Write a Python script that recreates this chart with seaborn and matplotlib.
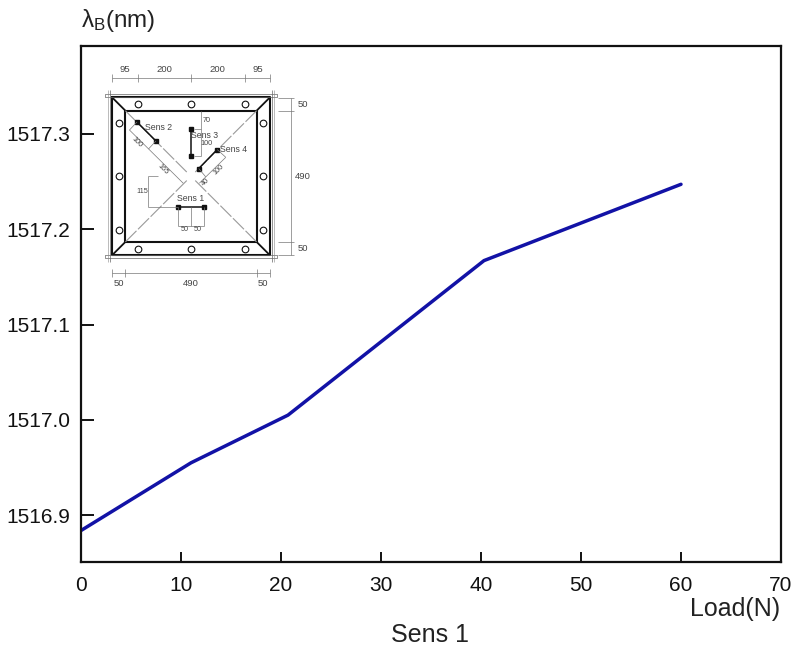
import matplotlib
matplotlib.use("Agg")
import matplotlib.pyplot as plt
import seaborn as sns
import pandas as pd

# ---- chart data ----
load_n = [0, 11, 20.7, 40.3, 60]
wavelength_nm = [1516.884, 1516.955, 1517.005, 1517.167, 1517.247]
x_ticks = [0, 10, 20, 30, 40, 50, 60, 70]
y_ticks = [1516.9, 1517.0, 1517.1, 1517.2, 1517.3]

# ---- inset schematic, in mm about the plate centre ----
outer = 295
inner = 245
bolt_near = 200
bolt_far = 270
sens1 = ([-50, 50], [-115, -115])
sens2 = ([-202, -131], [203, 132])
sens3 = ([0, 0], [176, 76])
sens4 = ([29, 98], [29, 100])
top_dim_x = [-297, -200, 0, 200, 297]
top_dim_labels = [(-248, "95"), (-100, "200"), (100, "200"), (248, "95")]
bottom_dim_x = [-295, -245, 245, 295]
bottom_dim_labels = [(-270, "50"), (0, "490"), (270, "50")]
right_dim_y = [294, 245, -245, -294]
right_dim_labels = [(270, "50"), (0, "490"), (-270, "50")]

sns.set_theme(style="white")
plt.rcParams["font.family"] = ["Liberation Sans", "DejaVu Sans"]
plt.rcParams["mathtext.fontset"] = "custom"
plt.rcParams["mathtext.rm"] = "Liberation Sans"
plt.rcParams["mathtext.it"] = "Liberation Sans"
plt.rcParams["mathtext.bf"] = "Liberation Sans"

W, H = 801, 654
fig = plt.figure(figsize=(W / 100, H / 100), dpi=100, facecolor="white")
ax = fig.add_axes([81 / W, 1 - 562 / H, 700 / W, 516 / H])

df = pd.DataFrame({"load": load_n, "wl": wavelength_nm})
sns.lineplot(data=df, x="load", y="wl", ax=ax, color="#1212a6", linewidth=2.5, sort=False)

ax.set_xlim(0, 70)
ax.set_ylim(1516.851, 1517.392)
ax.set_xticks(x_ticks)
ax.set_yticks(y_ticks)
ax.set_yticklabels([f"{v:.1f}" for v in y_ticks])
ax.tick_params(axis="x", direction="in", length=7.5, width=1.4, labelsize=15, pad=10,
               colors="#111111", bottom=True)
ax.tick_params(axis="y", direction="in", length=9, width=1.4, labelsize=15, pad=7.5,
               colors="#111111", left=True)
for s in ax.spines.values():
    s.set_visible(True)
    s.set_linewidth(1.6)
    s.set_color("#111111")

ax.set_xlabel("")
ax.set_ylabel("")
fig.text(780 / W, 1 - 609 / H, "Load(N)", ha="right", va="center", fontsize=18, color="#222222")
fig.text(430 / W, 1 - 635 / H, "Sens 1", ha="center", va="center", fontsize=18, color="#222222")
fig.text(81 / W, 1 - 21 / H, r"$\lambda_{\mathrm{B}}$(nm)", ha="left", va="center", fontsize=17.5,
         color="#222222")

# ---- inset schematic ----
S = 0.2675  # px per mm
bx0, bx1, by0, by1 = 95, 310, 55, 300
cx, cy = 191, 176.3
ins = fig.add_axes([bx0 / W, 1 - by1 / H, (bx1 - bx0) / W, (by1 - by0) / H])
ins.set_xlim((bx0 - cx) / S, (bx1 - cx) / S)
ins.set_ylim((cy - by1) / S, (cy - by0) / S)
ins.axis("off")
ins.patch.set_alpha(0)

K = "#111111"
G = "#777777"

def ln(x, y, lw=0.5, c=G, **kw):
    ins.plot(x, y, color=c, lw=lw, solid_capstyle="butt", **kw)

def lab(x, y, t, fs=6.3, rot=0):
    ins.text(x, y, t, fontsize=fs, ha="center", va="center", color="#444444", rotation=rot)

# frame
ins.plot([-outer, outer, outer, -outer, -outer], [outer, outer, -outer, -outer, outer], color=K, lw=1.5)
ins.plot([-inner, inner, inner, -inner, -inner], [inner, inner, -inner, -inner, inner], color=K, lw=1.5)
for sx in (-1, 1):
    for sy in (-1, 1):
        ln([sx * outer, sx * inner], [sy * outer, sy * inner], lw=1.3, c=K)
        ln([sx * inner, sx * 12], [sy * inner, sy * 12], lw=0.8, c="#999999", ls=(0, (14, 2)))
# end plates
for sy in (-1, 1):
    ln([-320, 320, 320, -320, -320], [sy * 296, sy * 296, sy * 307, sy * 307, sy * 296], lw=0.5, c="#666666")
for sx in (-1, 1):
    ln([sx * 302, sx * 302], [-322, 322], lw=0.5, c="#666666")
    ln([sx * 310, sx * 310], [-322, 322], lw=0.4, c="#888888")

# bolts
bx = [-bolt_near, 0, bolt_near]
for v in bx:
    for sgn in (-1, 1):
        ins.plot([v], [sgn * bolt_far], "o", ms=4.8, mfc="white", mec=K, mew=0.8)
        ins.plot([sgn * bolt_far], [v], "o", ms=4.8, mfc="white", mec=K, mew=0.8)

# sensors
for xs, ys in (sens1, sens2, sens3, sens4):
    ins.plot(xs, ys, color=K, lw=1.1, marker="s", ms=2.8, mfc=K, mec=K)
lab(0, -83, "Sens 1")
lab(-120, 182, "Sens 2")
lab(50, 151, "Sens 3")
lab(160, 100, "Sens 4")

# outer dimensions
ln([-297, 297], [369, 369])
for v in top_dim_x:
    ln([v, v], [354, 384])
for v, t in top_dim_labels:
    lab(v, 400, t, fs=6.8)
ln([-297, 297], [-363, -363])
for v in bottom_dim_x:
    ln([v, v], [-348, -378])
for v, t in bottom_dim_labels:
    lab(v, -400, t, fs=6.8)
ln([374, 374], [-294, 294])
for v in right_dim_y:
    ln([325, 385], [v, v])
for v, t in right_dim_labels:
    lab(418, v, t, fs=6.8)

# inner dimensions
ln([-160, -160], [0, -115])
ln([-160, -123], [0, 0])
ln([-160, -50], [-115, -115])
lab(-181, -57, "115", fs=5.2)
ln([-50, 50], [-184, -184])
for v in (-50, 0, 50):
    ln([v, v], [-115, -184])
lab(-25, -198, "50", fs=5.2)
lab(25, -198, "50", fs=5.2)
ln([39, 39], [245, 76])
ln([10, 39], [176, 176])
ln([10, 39], [76, 76])
lab(57, 208, "70", fs=5.2)
lab(58, 121, "100", fs=5.2)
ln([-230, -29], [173, -26])
ln([-202, -230], [203, 173])
ln([-131, -159], [132, 102])
lab(-203, 127, "100", fs=5.2, rot=-45)
lab(-106, 27, "165", fs=5.2, rot=-45)
ln([31, 130], [-26, 71])
ln([98, 130], [100, 71])
ln([29, 55], [29, -2])
lab(56, -22, "40", fs=5.2, rot=45)
lab(105, 24, "100", fs=5.2, rot=45)

fig.savefig("out.png", dpi=100, facecolor="white")
